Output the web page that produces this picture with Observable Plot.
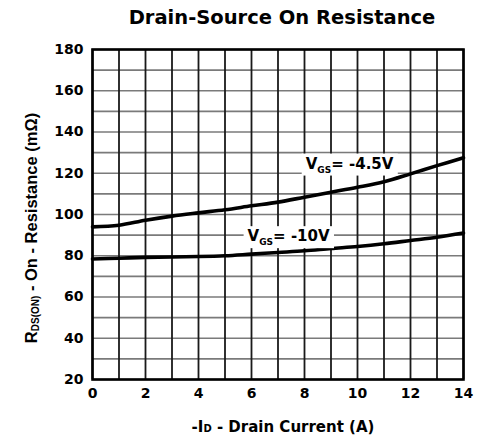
<!DOCTYPE html>
<html>
<head>
<meta charset="utf-8">
<script src="https://cdn.jsdelivr.net/npm/d3@7"></script>
<script src="https://cdn.jsdelivr.net/npm/@observablehq/plot@0.6"></script>
<style>
  html, body { margin: 0; padding: 0; background: #fff; }
  #chart { width: 478px; height: 441px; }
</style>
</head>
<body>
<div id="chart"></div>
<script>
// ---- data ----
const drainCurrent = [0, 1, 2, 3, 4, 5, 6, 7, 8, 9, 10, 11, 12, 13, 14];
const rdsVgs45 = [94.0, 94.8, 97.2, 99.2, 100.8, 102.3, 104.2, 106.0, 108.4, 110.8, 113.2, 115.9, 119.7, 123.7, 127.5];
const rdsVgs10 = [78.4, 78.8, 79.2, 79.4, 79.6, 80.0, 80.8, 81.6, 82.4, 83.5, 84.5, 85.8, 87.4, 89.0, 91.0];

const xTicks = [0, 2, 4, 6, 8, 10, 12, 14];
const yTicks = [20, 40, 60, 80, 100, 120, 140, 160, 180];
const xGrid = [0, 1, 2, 3, 4, 5, 6, 7, 8, 9, 10, 11, 12, 13, 14];
const yGrid = [20, 30, 40, 50, 60, 70, 80, 90, 100, 110, 120, 130, 140, 150, 160, 170, 180];

const labelMain = ["V", "V"];
const labelSub = ["GS", "GS"];
const labelRest = ["= -4.5V", "= -10V"];
const labelX = [9.7, 7.4];
const labelY = [124.6, 89.4];

const titleText = "Drain-Source On Resistance";

// ---- tables built from the arrays ----
const series = [
  ...drainCurrent.map((x, i) => ({x, y: rdsVgs45[i], vgs: "-4.5V"})),
  ...drainCurrent.map((x, i) => ({x, y: rdsVgs10[i], vgs: "-10V"}))
];
const labels = labelMain.map((m, i) => ({x: labelX[i], y: labelY[i], text: m + labelSub[i] + labelRest[i], i}));

const FONT = "DejaVu Sans, sans-serif";

const chart = Plot.plot({
  width: 478,
  height: 441,
  marginTop: 49,
  marginBottom: 62,
  marginLeft: 92,
  marginRight: 15,
  style: {fontFamily: FONT, fontSize: "14px", fontWeight: "bold", color: "#000", background: "#fff", overflow: "visible"},
  x: {domain: [0, 14], label: null},
  y: {domain: [20, 180], label: null},
  marks: [
    Plot.gridY(yGrid, {stroke: "#7a7a7a", strokeOpacity: 1, strokeWidth: 1.6}),
    Plot.gridX(xGrid, {stroke: "#1a1a1a", strokeOpacity: 1, strokeWidth: 1.8}),
    Plot.line(series, {x: "x", y: "y", z: "vgs", stroke: "#000", strokeWidth: 3.6, curve: "catmull-rom"}),
    Plot.text(labels, {x: "x", y: "y", text: "text", textAnchor: "middle", fill: "#000",
      fontSize: 15, fontWeight: "bold", fontFamily: FONT}),
    Plot.frame({stroke: "#000", strokeWidth: 2.6}),
    Plot.axisX(xTicks, {tickSize: 0, tickPadding: 9, fontSize: 14, fontWeight: "bold", label: null}),
    Plot.axisY(yTicks, {tickSize: 0, tickPadding: 9, fontSize: 14, fontWeight: "bold", label: null})
  ]
});

document.getElementById("chart").appendChild(chart);
const svg = d3.select(chart);

// rebuild annotation labels with subscripts and white background boxes
const labelTexts = labels.map(d => d.text);
svg.selectAll("text").filter(function() {
  return labelTexts.indexOf(this.textContent) >= 0;
}).each(function() {
  const k = labelTexts.indexOf(this.textContent);
  const t = d3.select(this);
  t.text(null);
  t.append("tspan").text(labelMain[k]);
  t.append("tspan").attr("font-size", 9).attr("dy", 4).text(labelSub[k]);
  t.append("tspan").attr("dy", -4).text(labelRest[k]);
  const bb = this.getBBox();
  const r = document.createElementNS("http://www.w3.org/2000/svg", "rect");
  this.parentNode.insertBefore(r, this);
  d3.select(r)
    .attr("x", bb.x - 4).attr("y", bb.y - 1)
    .attr("width", bb.width + 8).attr("height", bb.height + 2)
    .attr("fill", "#fff")
    .attr("transform", t.attr("transform"));
});

// title
svg.append("text")
  .attr("x", 282).attr("y", 24)
  .attr("text-anchor", "middle")
  .attr("font-family", FONT).attr("font-weight", "bold").attr("font-size", 19.5)
  .attr("fill", "#000")
  .text(titleText);

// x axis label
const xl = svg.append("text")
  .attr("x", 283).attr("y", 432)
  .attr("text-anchor", "middle")
  .attr("font-family", FONT).attr("font-weight", "bold").attr("font-size", 15)
  .attr("fill", "#000");
xl.append("tspan").text("-I");
xl.append("tspan").attr("font-size", 10).text("D");
xl.append("tspan").text(" - Drain Current (A)");

// y axis label
const yl = svg.append("text")
  .attr("transform", "translate(37,228) rotate(-90)")
  .attr("text-anchor", "middle")
  .attr("font-family", "Liberation Sans, Arial, sans-serif").attr("font-weight", "bold").attr("font-size", 16.5)
  .attr("fill", "#000");
yl.append("tspan").text("R");
yl.append("tspan").attr("font-size", 10).attr("dy", 2).text("DS(ON)");
yl.append("tspan").attr("dy", -2).text(" - On - Resistance (mΩ)");
</script>
</body>
</html>
